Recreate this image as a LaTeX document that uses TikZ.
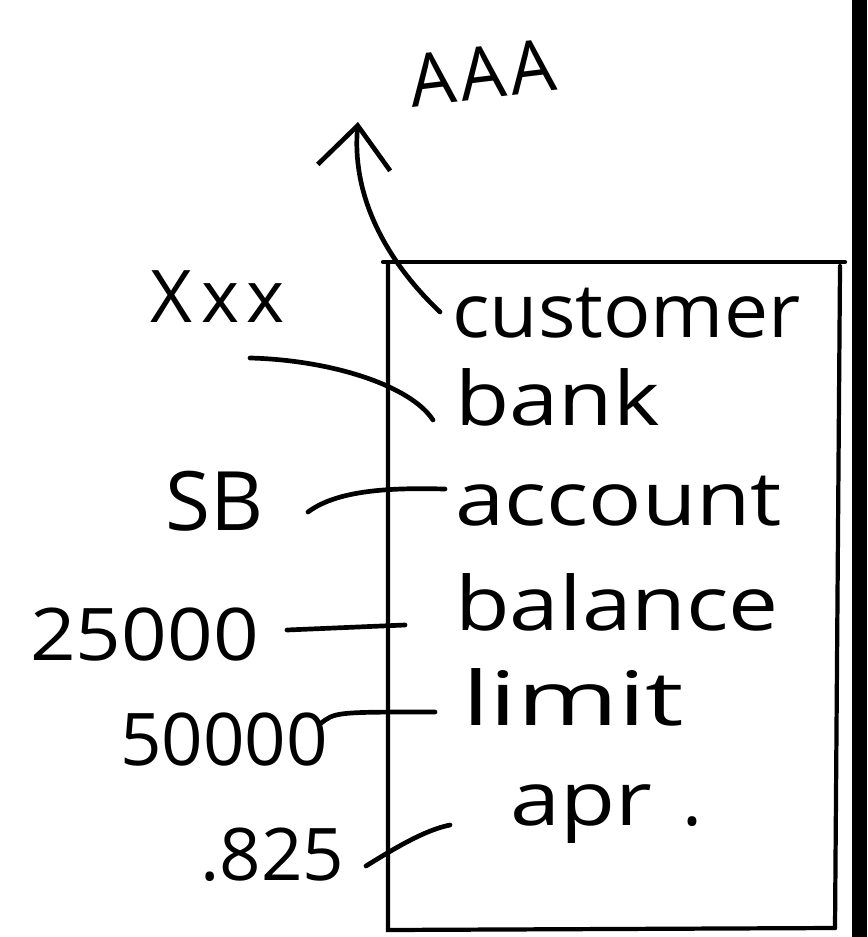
\documentclass[tikz,border=0pt]{standalone}
\usepackage{fontspec}
\usepackage{graphicx}
\setmainfont{Open Sans}
\usetikzlibrary{arrows.meta}
\newcommand{\hstretch}[2]{\scalebox{#1}[1]{#2}}
\tikzset{
  ink/.style={draw=black, line width=4pt, line cap=round, line join=round},
  boxline/.style={draw=black, line width=3.6pt, line cap=round},
  field/.style={anchor=base west, inner sep=0pt, font=\fontsize{64}{70}\selectfont},
  val/.style={anchor=base west, inner sep=0pt, font=\fontsize{62}{70}\selectfont},
}
\begin{document}
\begin{tikzpicture}[x=0.03cm,y=-0.03cm]
\useasboundingbox (0,0) rectangle (867,937);
\fill[black] (852,0) rectangle (867,937);
% box
\draw[boxline] (383,262) -- (845,262);
\draw[boxline] (388,264) -- (388,930) -- (835,928);
\draw[boxline] (840,266) -- (835,928);
% fields
\node[field] (customer) at (452,338) {\hstretch{1.05}{customer}};
\node[field] (bank) at (455,425) {\hstretch{1.18}{bank}};
\node[field] (account) at (455,525) {\hstretch{1.18}{account}};
\node[field] (balance) at (455,630) {\hstretch{1.19}{balance}};
\node[field] (limit) at (462,725) {\hstretch{1.45}{limit}};
\node[field] (apr) at (510,825) {\hstretch{1.2}{apr}\kern26pt.};
% values
\node[val, rotate=7] (aaa) at (412,108) {A\kern4pt A\kern4pt A};
\node[val] (xxx) at (150,322) {X\kern8pt x\kern6pt x};
\node[val, font=\fontsize{70}{76}\selectfont] (sb) at (165,530) {SB};
\node[val] (v25) at (30,660) {\hstretch{1.1}{25000}};
\node[val] (v50) at (120,765) {50000};
\node[val] (v825) at (200,880) {.825};
% connectors
\coordinate (custstart) at (440,312);
\draw[ink, -{Straight Barb[length=36pt,width=62pt,line width=4pt]}]
  (custstart) .. controls (380,255) and (352,190) .. (358,122);
\coordinate (bankstart) at (250,358);
\coordinate (bankend) at (433,420);
\draw[ink] (bankstart) .. controls (330,360) and (410,385) .. (bankend);
\coordinate (sbstart) at (308,512);
\coordinate (sbend) at (445,489);
\draw[ink] (sbstart) .. controls (340,488) and (400,488) .. (sbend);
\coordinate (v25start) at (287,630);
\coordinate (v25end) at (405,625);
\draw[ink] (v25start) -- (v25end);
\coordinate (v50start) at (320,724);
\coordinate (v50end) at (435,712);
\draw[ink] (v50start) .. controls (335,712) .. (v50end);
\coordinate (v825start) at (366,866);
\coordinate (v825end) at (450,825);
\draw[ink] (v825start) .. controls (395,848) and (425,830) .. (v825end);
\end{tikzpicture}
\end{document}
